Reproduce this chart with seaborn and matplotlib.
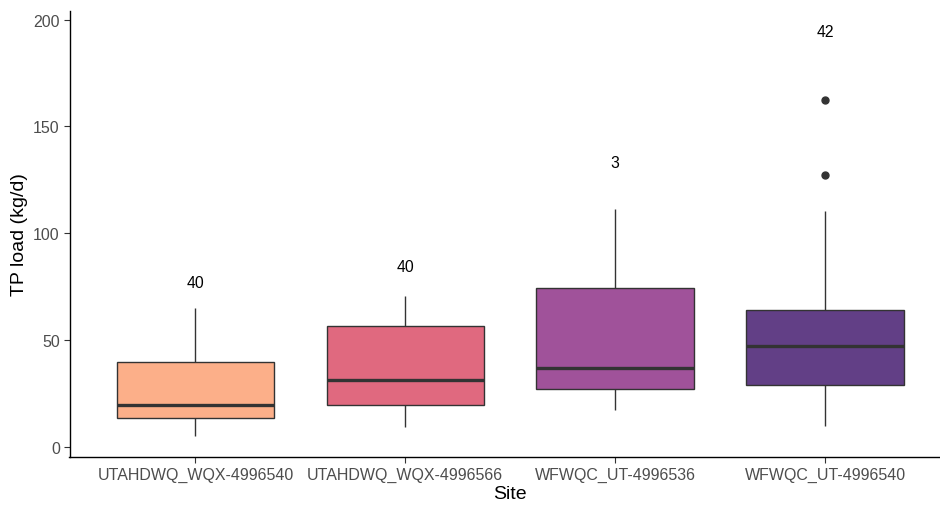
import numpy as np
import pandas as pd
import matplotlib
matplotlib.use("Agg")
import matplotlib.pyplot as plt
import seaborn as sns

# ---- data ----
sites = ["UTAHDWQ_WQX-4996540", "UTAHDWQ_WQX-4996566",
         "WFWQC_UT-4996536", "WFWQC_UT-4996540"]
whisker_low = [4.9, 9.1, 17.3, 9.6]
q1 = [13.4, 19.4, 27.2, 28.9]
median = [19.4, 31.4, 37.0, 47.0]
q3 = [39.8, 56.5, 74.5, 63.9]
whisker_high = [64.8, 70.4, 111.3, 110.3]
outliers = [[], [], [], [127.4, 162.4]]
counts = ["40", "40", "3", "42"]
count_y = [76.7, 84.2, 133.3, 194.6]
colors = ["#FCAF89", "#E0697F", "#A0529A", "#623F86"]

# build long-form values whose quartiles reproduce the box statistics
rows = []
for i, s in enumerate(sites):
    vals = [whisker_low[i]] + [q1[i]] * 3 + [median[i]] * 3 + [q3[i]] * 3
    tail = [whisker_high[i]] * (3 - len(outliers[i])) + list(outliers[i])
    for v in vals + tail:
        rows.append({"Site": s, "TP": v})
df = pd.DataFrame(rows)

sns.set_style("white")
plt.rcParams["font.family"] = ["Liberation Sans", "DejaVu Sans"]

fig = plt.figure(figsize=(9.4, 5.06), dpi=100)
ax = fig.add_axes([69.5 / 940, (506 - 458) / 506, (951 - 69.5) / 940, (458 - 11.7) / 506])

sns.boxplot(data=df, x="Site", y="TP", hue="Site", palette=colors, order=sites,
            hue_order=sites, legend=False, saturation=1, width=0.75,
            linecolor="#333333", linewidth=1.0, whis=1.5, ax=ax,
            medianprops={"linewidth": 2.4, "color": "#333333"},
            capprops={"visible": False},
            flierprops={"marker": "o", "markerfacecolor": "#333333",
                        "markeredgecolor": "#333333", "markersize": 5})

for i, (c, yv) in enumerate(zip(counts, count_y)):
    ax.text(i, yv, c, ha="center", va="center", fontsize=11.3, color="black")

ax.set_xlim(-0.6, 3.6)
ax.set_ylim(-4.8, 204.2)
ax.set_yticks([0, 50, 100, 150, 200])
ax.set_xlabel("Site", fontsize=14, color="black", labelpad=2)
ax.set_ylabel("TP load (kg/d)", fontsize=14, color="black", labelpad=4)
ax.tick_params(axis="both", which="both", length=4, width=0.8, color="#333333",
               labelsize=11.5, labelcolor="#4D4D4D", pad=3,
               left=True, bottom=True)
for side in ["top", "right"]:
    ax.spines[side].set_visible(False)
for side in ["left", "bottom"]:
    ax.spines[side].set_color("black")
    ax.spines[side].set_linewidth(1.0)

fig.savefig("out.png", dpi=100)
